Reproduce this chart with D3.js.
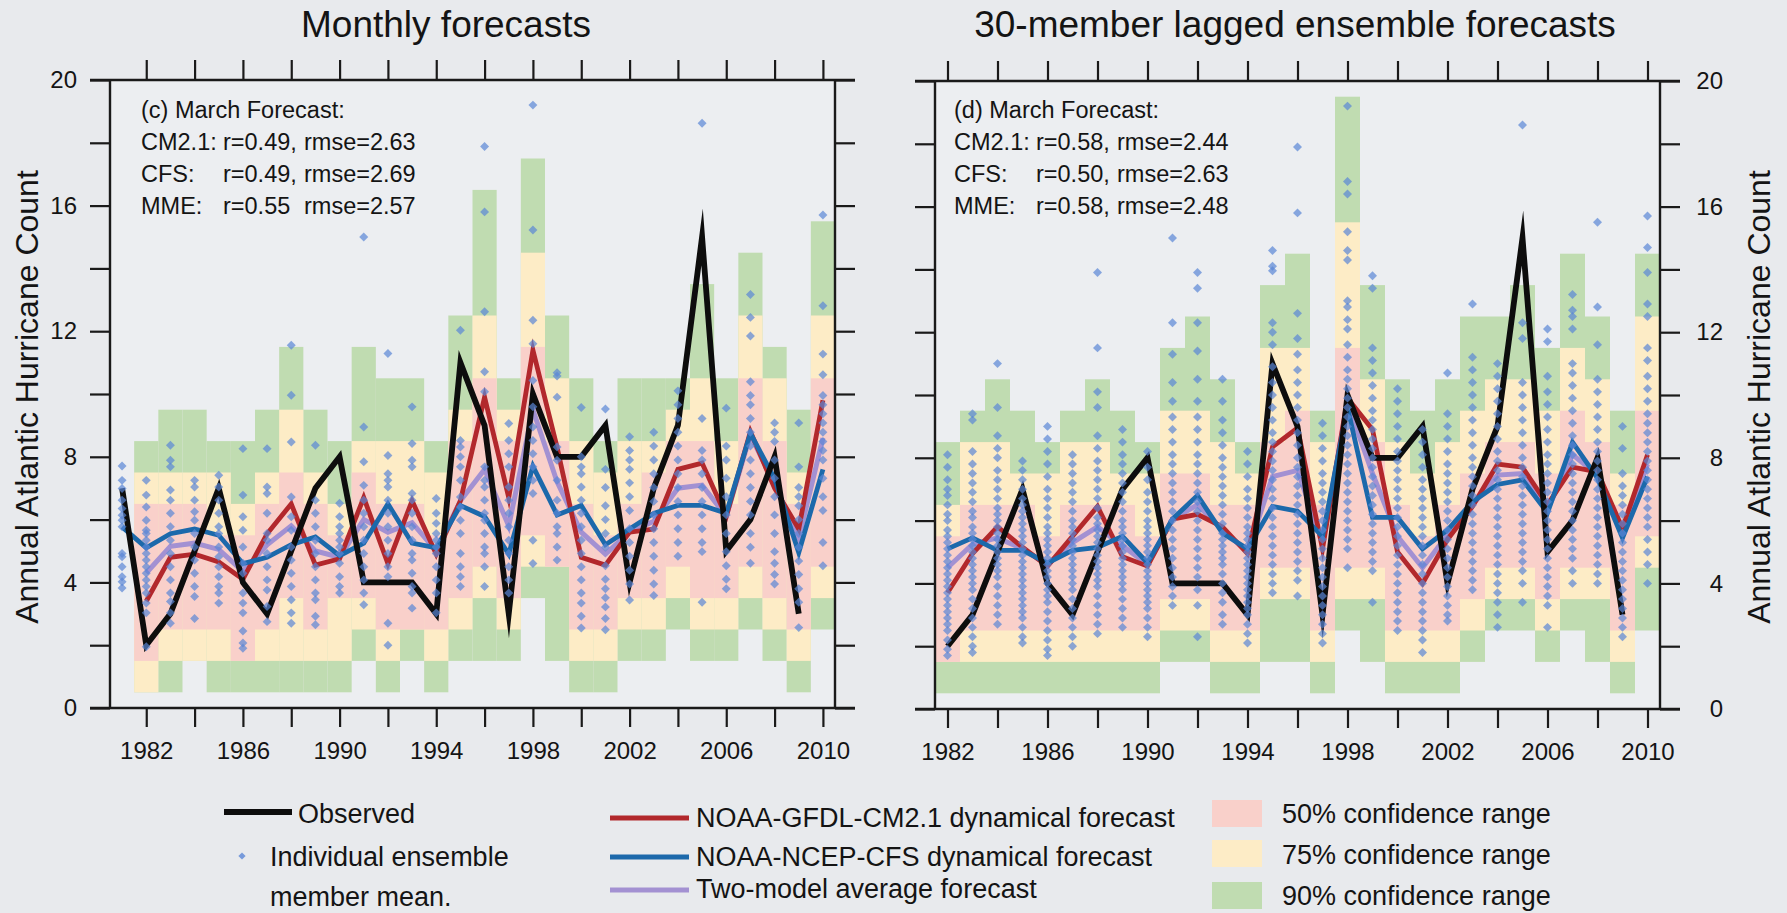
<!DOCTYPE html>
<html>
<head>
<meta charset="utf-8">
<script src="https://cdn.jsdelivr.net/npm/d3@7"></script>
<style>
  body { margin: 0; background: #e8eaed; }
  svg { display: block; font-family: "Liberation Sans", Arial, sans-serif; }
</style>
</head>
<body>
<svg id="chart" width="1787" height="913"></svg>
<script>
// ---------- data ----------
const yearTicks = [1982, 1984, 1986, 1988, 1990, 1992, 1994, 1996, 1998, 2000, 2002, 2004, 2006, 2008, 2010];
const yearLabels = [1982, 1986, 1990, 1994, 1998, 2002, 2006, 2010];
const countTicks = [0, 2, 4, 6, 8, 10, 12, 14, 16, 18, 20];
const countLabels = [0, 4, 8, 12, 16, 20];

// left panel: monthly forecasts (1981-2010)
const yearsL = [1981, 1982, 1983, 1984, 1985, 1986, 1987, 1988, 1989, 1990, 1991, 1992, 1993, 1994, 1995,
                1996, 1997, 1998, 1999, 2000, 2001, 2002, 2003, 2004, 2005, 2006, 2007, 2008, 2009, 2010];
const observedL = [7, 2, 3, 5, 7, 4, 3, 5, 7, 8, 4, 4, 4, 3, 11, 9, 3, 10, 8, 8, 9, 4, 7, 9, 15, 5, 6, 8, 3, null];
const cm21L = [null, 3.4, 4.8, 4.9, 4.65, 4.1, 5.55, 6.5, 4.55, 4.75, 6.7, 4.6, 6.6, 4.9, 6.6, 9.9, 6.7, 11.4, 8.3,
               4.8, 4.55, 5.6, 5.7, 7.6, 7.8, 6.1, 8.8, 7.0, 5.7, 9.8];
const cfsL = [5.77, 5.1, 5.55, 5.7, 5.5, 4.6, 4.8, 5.2, 5.45, 4.85, 5.25, 6.5, 5.25, 5.1, 6.45, 6.1, 4.9, 7.7, 6.15,
              6.45, 5.2, 5.7, 6.2, 6.45, 6.45, 6.2, 8.75, 7.3, 4.95, 7.6];
const mmeL = [null, 4.3, 5.15, 5.25, 5.05, 4.35, 5.2, 5.8, 5.0, 4.8, 6.0, 5.6, 5.9, 5.0, 6.6, 7.6, 5.8, 9.5, 7.2,
              5.6, 4.9, 5.6, 5.95, 7.0, 7.1, 6.1, 8.7, 7.1, 5.4, 8.6];
const membersL = [
  [7.71, 7.25, 6.99, 6.62, 6.35, 6.14, 5.98, 5.77, 4.92, 4.82, 4.5, 4.18, 4.02, 3.82],
  [7.25, 6.78, 6.4, 5.98, 5.66, 5.56, 5.34, 5.13, 4.92, 4.71, 4.5, 4.29, 4.08, 3.87, 3.66, 3.34, 3.03, 1.95],
  [8.37, 7.89, 7.68, 6.94, 6.62, 6.2, 5.77, 5.34, 4.92, 4.5, 4.08, 3.66, 3.39, 3.03, 2.7],
  [7.25, 7.04, 6.62, 6.25, 5.98, 5.56, 5.13, 4.71, 4.29, 3.87, 3.55, 2.85],
  [7.41, 7.04, 6.62, 6.2, 5.77, 5.56, 5.13, 4.82, 4.5, 4.18, 3.87, 3.66, 3.34],
  [8.26, 6.78, 6.09, 5.66, 5.13, 4.61, 4.29, 3.66, 3.34, 3.03, 2.45, 2.07, 1.9],
  [8.26, 7.04, 6.83, 6.2, 5.56, 5.34, 4.92, 4.5, 4.08, 3.76, 3.23, 2.75],
  [11.55, 9.96, 8.47, 6.72, 6.09, 5.66, 5.13, 4.71, 4.29, 3.87, 3.45, 3.03, 2.7],
  [8.37, 6.62, 6.2, 5.77, 5.34, 4.92, 4.5, 4.08, 3.66, 3.45, 2.92, 2.65],
  [6.52, 6.09, 5.77, 5.56, 5.34, 5.13, 4.92, 4.61, 4.18, 3.87, 3.66],
  [15.0, 8.95, 7.84, 7.09, 6.62, 6.2, 5.77, 5.34, 4.92, 4.5, 4.08, 3.66, 3.29],
  [11.29, 8.04, 7.46, 7.25, 7.04, 6.62, 6.2, 5.77, 5.34, 4.92, 4.5, 4.18, 2.7, 2.0],
  [9.59, 8.42, 7.89, 7.68, 6.83, 6.62, 6.2, 5.77, 5.34, 4.92, 4.71, 4.29, 3.87, 3.66, 3.18],
  [6.67, 6.2, 5.88, 5.56, 5.34, 5.13, 4.92, 4.5, 4.08, 3.66, 3.03],
  [12.03, 8.52, 8.31, 8.0, 7.68, 7.25, 6.72, 6.4, 5.98, 5.56, 4.92, 4.5, 4.18, 3.87],
  [17.88, 15.8, 12.62, 10.71, 10.07, 7.68, 7.25, 7.04, 6.62, 6.2, 5.98, 5.56, 5.13, 4.92, 4.5, 3.87],
  [9.06, 8.52, 8.1, 7.68, 7.04, 6.62, 6.2, 5.77, 5.34, 4.92, 4.5, 4.08, 3.66],
  [19.2, 15.22, 12.35, 11.6, 10.43, 9.59, 8.95, 8.52, 8.1, 7.68, 7.25, 6.83, 5.34, 4.6],
  [10.68, 10.57, 9.9, 8.31, 7.89, 7.25, 6.62, 6.2, 5.77, 5.56, 5.13, 4.71],
  [9.57, 8.0, 7.68, 7.46, 7.04, 6.62, 6.2, 5.77, 5.34, 4.92, 4.5, 4.08, 3.66, 3.34, 2.92, 2.55],
  [9.52, 7.6, 7.02, 6.44, 6.0, 5.56, 5.12, 4.53, 4.1, 3.8, 3.51, 3.22, 2.85, 2.49],
  [8.64, 8.2, 7.9, 7.6, 7.17, 6.73, 6.29, 5.71, 5.27, 4.83, 4.39, 3.95, 3.44],
  [8.78, 8.34, 7.9, 7.46, 7.02, 6.58, 6.15, 5.71, 5.27, 4.83, 4.39, 3.95, 3.58],
  [10.1, 9.66, 9.22, 8.78, 8.34, 7.9, 7.46, 7.02, 6.58, 6.15, 5.71, 5.27, 4.83],
  [18.62, 9.22, 8.2, 7.9, 7.46, 7.02, 6.58, 6.15, 5.71, 5.27, 4.98, 3.37],
  [9.55, 8.34, 7.9, 7.32, 6.73, 6.15, 5.56, 4.98, 4.53, 4.1, 3.8],
  [13.17, 12.44, 11.85, 10.39, 9.95, 9.66, 9.22, 8.78, 8.34, 7.9, 7.46, 7.02, 6.58, 6.15, 5.56, 5.12, 4.61],
  [9.08, 8.78, 8.49, 7.9, 7.32, 6.73, 6.15, 5.56, 4.98, 4.61, 4.25, 3.95],
  [9.08, 7.68, 7.02, 6.73, 6.44, 6.0, 5.56, 5.12, 4.68, 4.25, 3.8, 3.37, 2.56],
  [15.7, 12.81, 11.27, 10.61, 9.95, 9.66, 9.37, 9.08, 8.78, 8.49, 8.2, 7.9, 7.32, 6.73, 6.29, 5.27, 4.53]
];
// confidence ranges, 1982-2010
const bandYears = [1982, 1983, 1984, 1985, 1986, 1987, 1988, 1989, 1990, 1991, 1992, 1993, 1994, 1995, 1996,
                   1997, 1998, 1999, 2000, 2001, 2002, 2003, 2004, 2005, 2006, 2007, 2008, 2009, 2010];
const lo90L = [0.5, 0.5, 1.5, 0.5, 0.5, 0.5, 0.5, 0.5, 0.5, 1.5, 0.5, 1.5, 0.5, 1.5, 1.5, 1.5, 3.5, 1.5, 0.5, 0.5, 1.5, 1.5, 2.5, 1.5, 1.5, 2.5, 1.5, 0.5, 2.5];
const lo75L = [0.5, 1.5, 1.5, 1.5, 1.5, 1.5, 1.5, 1.5, 1.5, 2.5, 1.5, 2.5, 1.5, 2.5, 3.5, 2.5, 4.5, 4.5, 1.5, 1.5, 2.5, 2.5, 3.5, 2.5, 2.5, 3.5, 2.5, 1.5, 3.5];
const lo50L = [1.5, 2.5, 2.5, 2.5, 1.5, 2.5, 3.5, 2.5, 3.5, 3.5, 2.5, 2.5, 2.5, 3.5, 4.5, 3.5, 5.5, 4.5, 2.5, 2.5, 3.5, 3.5, 4.5, 3.5, 3.5, 4.5, 3.5, 2.5, 4.5];
const hi50L = [6.5, 6.5, 6.5, 5.5, 5.5, 6.5, 7.5, 6.5, 5.5, 7.5, 6.5, 6.5, 5.5, 8.5, 10.5, 8.5, 11.5, 8.5, 6.5, 5.5, 6.5, 7.5, 8.5, 8.5, 6.5, 10.5, 8.5, 6.5, 10.5];
const hi75L = [7.5, 7.5, 7.5, 7.5, 6.5, 7.5, 9.5, 7.5, 6.5, 8.5, 8.5, 8.5, 7.5, 9.5, 12.5, 9.5, 14.5, 10.5, 8.5, 7.5, 8.5, 8.5, 9.5, 10.5, 8.5, 12.5, 10.5, 7.5, 12.5];
const hi90L = [8.5, 9.5, 9.5, 8.5, 8.5, 9.5, 11.5, 9.5, 8.5, 11.5, 10.5, 10.5, 8.5, 12.5, 16.5, 10.5, 17.5, 12.5, 10.5, 8.5, 10.5, 10.5, 10.5, 13.5, 10.5, 14.5, 11.5, 9.5, 15.5];

// right panel: 30-member lagged ensemble (1982-2010)
const yearsR = bandYears;
const observedR = [2, 3, 5, 7, 4, 3, 5, 7, 8, 4, 4, 4, 3, 11, 9, 3, 10, 8, 8, 9, 4, 7, 9, 15, 5, 6, 8, 3, null];
const cm21R = [3.7, 4.95, 5.8, 5.15, 4.55, 5.5, 6.45, 4.85, 4.55, 6.05, 6.2, 5.8, 4.95, 8.35, 8.95, 5.1, 9.9, 8.9,
               5.0, 4.0, 5.4, 6.45, 7.8, 7.7, 6.5, 7.7, 7.55, 5.75, 8.1];
const cfsR = [5.1, 5.45, 5.05, 5.05, 4.65, 5.05, 5.15, 5.5, 4.65, 6.05, 6.8, 5.6, 5.1, 6.45, 6.3, 5.5, 9.6, 6.1,
              6.1, 5.1, 5.7, 6.6, 7.15, 7.3, 6.25, 8.5, 7.35, 5.45, 7.4];
const mmeR = [4.5, 5.25, 5.45, 5.1, 4.6, 5.3, 5.8, 5.2, 4.6, 6.05, 6.5, 5.7, 5.0, 7.4, 7.6, 5.3, 9.75, 7.5,
              5.5, 4.5, 5.55, 6.5, 7.45, 7.5, 6.35, 8.1, 7.45, 5.55, 7.8];
const membersR = [
  [8.1, 7.7, 7.3, 7.0, 6.8, 6.5, 6.2, 6.0, 5.7, 5.5, 5.3, 5.1, 4.9, 4.7, 4.5, 4.3, 4.1, 3.9, 3.7, 3.5, 3.3, 3.1, 2.9, 2.7, 2.5, 2.2, 1.9, 1.7],
  [9.4, 9.2, 8.2, 7.8, 7.5, 7.2, 6.9, 6.6, 6.3, 6.1, 5.8, 5.6, 5.4, 5.2, 5.0, 4.8, 4.6, 4.4, 4.2, 4.0, 3.8, 3.5, 3.2, 2.9, 2.6, 2.3, 2.0, 1.8],
  [11.0, 9.6, 8.7, 8.3, 8.0, 7.6, 7.3, 7.0, 6.7, 6.4, 6.2, 6.0, 5.8, 5.6, 5.4, 5.2, 5.0, 4.8, 4.6, 4.4, 4.2, 3.9, 3.6, 3.3, 3.0, 2.7],
  [7.9, 7.6, 7.3, 7.0, 6.7, 6.5, 6.3, 6.1, 5.9, 5.7, 5.5, 5.3, 5.1, 4.9, 4.7, 4.5, 4.3, 4.1, 3.9, 3.7, 3.5, 3.3, 3.1, 2.9, 2.6, 2.3, 2.1],
  [9.0, 8.6, 8.2, 7.8, 7.4, 7.0, 6.7, 6.4, 6.1, 5.8, 5.6, 5.4, 5.2, 5.0, 4.8, 4.6, 4.4, 4.2, 4.0, 3.8, 3.6, 3.4, 3.1, 2.8, 2.5, 2.2, 1.9, 1.7],
  [8.1, 7.8, 7.5, 7.2, 6.9, 6.6, 6.3, 6.0, 5.8, 5.6, 5.4, 5.2, 5.0, 4.8, 4.6, 4.4, 4.2, 4.0, 3.8, 3.5, 3.2, 2.9, 2.6, 2.3, 2.0],
  [13.9, 11.5, 10.1, 9.6, 8.7, 8.3, 7.9, 7.6, 7.3, 7.0, 6.7, 6.4, 6.1, 5.9, 5.7, 5.5, 5.3, 5.1, 4.9, 4.7, 4.5, 4.3, 4.1, 3.9, 3.6, 3.3, 3.0, 2.7, 2.4],
  [8.9, 8.5, 8.1, 7.8, 7.5, 7.2, 6.9, 6.6, 6.3, 6.0, 5.8, 5.6, 5.4, 5.2, 5.0, 4.8, 4.6, 4.4, 4.2, 4.0, 3.8, 3.5, 3.2, 2.9, 2.6],
  [8.2, 7.7, 7.3, 6.9, 6.6, 6.3, 6.0, 5.8, 5.6, 5.4, 5.2, 5.0, 4.8, 4.6, 4.4, 4.2, 4.0, 3.8, 3.6, 3.4, 3.2, 2.9, 2.6, 2.3],
  [15.0, 12.3, 11.3, 10.4, 9.8, 9.3, 8.9, 8.5, 8.1, 7.8, 7.5, 7.2, 6.9, 6.6, 6.3, 6.0, 5.7, 5.4, 5.1, 4.8, 4.5, 4.2, 3.9, 3.6, 3.3],
  [13.9, 13.4, 12.3, 11.4, 10.5, 9.8, 9.3, 8.9, 8.5, 8.1, 7.8, 7.5, 7.2, 6.9, 6.6, 6.3, 6.0, 5.7, 5.4, 5.1, 4.8, 4.5, 4.2, 3.8, 3.3, 2.3],
  [10.5, 9.8, 9.2, 8.8, 8.4, 8.0, 7.7, 7.4, 7.1, 6.8, 6.5, 6.2, 5.9, 5.6, 5.4, 5.2, 5.0, 4.8, 4.6, 4.3, 4.0, 3.7, 3.4, 3.0, 2.7],
  [8.2, 7.8, 7.4, 7.0, 6.7, 6.4, 6.1, 5.8, 5.6, 5.4, 5.2, 5.0, 4.8, 4.6, 4.4, 4.2, 4.0, 3.8, 3.6, 3.4, 3.2, 3.0, 2.7, 2.4, 2.1],
  [14.6, 14.1, 13.96, 12.3, 12.0, 11.6, 10.9, 10.4, 10.0, 9.6, 9.2, 8.8, 8.5, 8.2, 7.9, 7.6, 7.3, 7.0, 6.7, 6.4, 6.1, 5.8, 5.5, 5.2, 4.9, 4.6, 4.3, 4.0, 3.7],
  [17.9, 15.8, 12.6, 11.8, 11.3, 10.8, 10.4, 10.0, 9.6, 9.2, 8.8, 8.4, 8.0, 7.7, 7.4, 7.1, 6.8, 6.5, 6.2, 5.9, 5.6, 5.3, 5.0, 4.7, 4.4, 4.1, 3.6],
  [9.1, 8.7, 8.3, 7.9, 7.5, 7.2, 6.9, 6.6, 6.3, 6.0, 5.7, 5.4, 5.1, 4.8, 4.5, 4.2, 3.9, 3.6, 3.3, 3.0, 2.7, 2.4, 2.1],
  [19.2, 16.8, 16.4, 15.2, 14.6, 14.3, 13.0, 12.8, 12.4, 12.1, 11.6, 11.2, 10.8, 10.5, 10.2, 9.9, 9.6, 9.3, 9.0, 8.7, 8.4, 8.1, 7.8, 7.5, 7.2, 6.9, 6.6, 6.3, 6.0, 5.7, 5.4, 5.1, 4.5],
  [13.8, 13.4, 11.5, 11.1, 10.7, 10.3, 9.9, 9.5, 9.2, 8.9, 8.6, 8.3, 8.0, 7.7, 7.4, 7.1, 6.8, 6.5, 6.2, 5.9, 5.6, 5.3, 5.0, 4.7, 4.4, 3.4],
  [10.2, 9.8, 9.4, 9.0, 8.6, 8.2, 7.9, 7.6, 7.3, 7.0, 6.7, 6.4, 6.1, 5.8, 5.5, 5.2, 4.9, 4.6, 4.3, 4.0, 3.7, 3.4, 3.1, 2.8, 2.5],
  [8.9, 8.5, 8.1, 7.7, 7.3, 7.0, 6.7, 6.4, 6.1, 5.8, 5.5, 5.2, 4.9, 4.6, 4.3, 4.0, 3.7, 3.4, 3.1, 2.8, 2.5, 2.2, 1.8],
  [10.7, 9.4, 9.0, 8.6, 8.2, 7.8, 7.5, 7.2, 6.9, 6.6, 6.3, 6.0, 5.7, 5.4, 5.1, 4.8, 4.5, 4.2, 3.9, 3.6, 3.3, 3.0, 2.8],
  [12.9, 11.2, 10.8, 10.4, 10.0, 9.6, 9.2, 8.8, 8.4, 8.0, 7.7, 7.4, 7.1, 6.8, 6.5, 6.2, 5.9, 5.6, 5.3, 5.0, 4.7, 4.4, 4.1, 3.8],
  [11.0, 10.6, 10.2, 9.8, 9.4, 9.0, 8.6, 8.2, 7.9, 7.6, 7.3, 7.0, 6.7, 6.4, 6.1, 5.8, 5.5, 5.2, 4.9, 4.6, 4.3, 4.0, 3.7, 3.4, 3.0, 2.6],
  [18.6, 12.3, 11.8, 10.4, 10.0, 9.6, 9.2, 8.8, 8.4, 8.0, 7.7, 7.4, 7.1, 6.8, 6.5, 6.2, 5.9, 5.6, 5.3, 5.0, 4.7, 4.4, 4.0, 3.4],
  [12.1, 11.7, 10.6, 10.1, 9.7, 9.3, 8.9, 8.5, 8.1, 7.8, 7.5, 7.2, 6.9, 6.6, 6.3, 6.0, 5.7, 5.4, 5.1, 4.8, 4.5, 4.2, 3.9, 3.6, 3.3, 2.6],
  [13.2, 12.7, 12.5, 12.1, 11.0, 10.7, 10.3, 9.9, 9.5, 9.1, 8.7, 8.4, 8.1, 7.8, 7.5, 7.2, 6.9, 6.6, 6.3, 6.0, 5.7, 5.4, 5.1, 4.8, 4.4, 4.0],
  [15.5, 12.8, 11.6, 10.5, 10.1, 9.7, 9.3, 8.9, 8.5, 8.2, 7.9, 7.6, 7.3, 7.0, 6.7, 6.4, 6.1, 5.8, 5.5, 5.2, 4.9, 4.6, 4.3, 4.0],
  [9.0, 8.3, 7.5, 7.1, 6.8, 6.5, 6.2, 5.9, 5.6, 5.3, 5.0, 4.7, 4.4, 4.1, 3.8, 3.5, 3.2, 2.9, 2.6, 2.3],
  [15.7, 14.7, 13.9, 12.9, 12.5, 11.5, 11.1, 10.6, 10.2, 9.8, 9.4, 9.1, 8.8, 8.5, 8.2, 7.9, 7.6, 7.3, 7.0, 6.7, 6.4, 6.1, 5.8, 5.4, 5.0, 4.6, 4.0]
];
const lo90R = [0.5, 0.5, 0.5, 0.5, 0.5, 0.5, 0.5, 0.5, 0.5, 1.5, 1.5, 0.5, 0.5, 1.5, 1.5, 0.5, 2.5, 1.5, 0.5, 0.5, 0.5, 1.5, 2.5, 2.5, 1.5, 2.5, 1.5, 0.5, 2.5];
const lo75R = [1.5, 1.5, 1.5, 1.5, 1.5, 1.5, 1.5, 1.5, 1.5, 2.5, 2.5, 1.5, 1.5, 3.5, 3.5, 1.5, 3.5, 3.5, 1.5, 1.5, 1.5, 2.5, 3.5, 3.5, 2.5, 3.5, 3.5, 1.5, 4.5];
const lo50R = [1.5, 2.5, 2.5, 2.5, 2.5, 2.5, 2.5, 2.5, 2.5, 3.5, 3.5, 2.5, 2.5, 4.5, 4.5, 2.5, 4.5, 4.5, 2.5, 2.5, 2.5, 3.5, 4.5, 4.5, 3.5, 4.5, 4.5, 2.5, 5.5];
const hi50R = [5.5, 6.5, 6.5, 6.5, 5.5, 6.5, 6.5, 6.5, 5.5, 7.5, 7.5, 6.5, 6.5, 8.5, 9.5, 6.5, 11.5, 8.5, 6.5, 5.5, 6.5, 7.5, 8.5, 8.5, 7.5, 9.5, 8.5, 6.5, 9.5];
const hi75R = [6.5, 8.5, 8.5, 7.5, 7.5, 8.5, 8.5, 7.5, 7.5, 9.5, 9.5, 8.5, 7.5, 11.5, 11.5, 8.5, 15.5, 10.5, 8.5, 7.5, 8.5, 9.5, 10.5, 10.5, 9.5, 11.5, 10.5, 7.5, 12.5];
const hi90R = [8.5, 9.5, 10.5, 9.5, 8.5, 9.5, 10.5, 9.5, 8.5, 11.5, 12.5, 10.5, 8.5, 13.5, 14.5, 9.5, 19.5, 13.5, 10.5, 9.5, 10.5, 12.5, 12.5, 13.5, 11.5, 14.5, 12.5, 9.5, 14.5];

const statsL = ["(c) March Forecast:", ["CM2.1:", "r=0.49,", "rmse=2.63"], ["CFS:", "r=0.49,", "rmse=2.69"], ["MME:", "r=0.55", "rmse=2.57"]];
const statsR = ["(d) March Forecast:", ["CM2.1:", "r=0.58,", "rmse=2.44"], ["CFS:", "r=0.50,", "rmse=2.63"], ["MME:", "r=0.58,", "rmse=2.48"]];

// ---------- styles ----------
const C = {
  obs: "#0d0d0d", cm21: "#b2282c", cfs: "#1c69ab", mme: "#a391d2",
  b50: "#f9d0ca", b75: "#fdecc6", b90: "#c0dcb1", dot: "#5a86d6", axis: "#1a1a1a", text: "#141414"
};

const svg = d3.select("#chart");
svg.append("rect").attr("width", 1787).attr("height", 913).attr("fill", "#e8eaed");

function drawPanel(cfg, d) {
  const x = d3.scaleLinear().domain(cfg.xDomain).range([cfg.left, cfg.right]);
  const y = d3.scaleLinear().domain([0, 20]).range([cfg.bottom, cfg.top]);
  const g = svg.append("g");

  g.append("rect")
    .attr("x", cfg.left).attr("y", cfg.top)
    .attr("width", cfg.right - cfg.left).attr("height", cfg.bottom - cfg.top)
    .attr("fill", "#eceef1");

  // confidence ranges: widest first
  [[d.lo90, d.hi90, C.b90], [d.lo75, d.hi75, C.b75], [d.lo50, d.hi50, C.b50]].forEach(([lo, hi, col]) => {
    g.append("g").selectAll("rect")
      .data(bandYears.map((yr, i) => ({ yr, lo: lo[i], hi: hi[i] })))
      .join("rect")
      .attr("x", e => x(e.yr - 0.5))
      .attr("width", e => x(e.yr + 0.5) - x(e.yr - 0.5))
      .attr("y", e => y(e.hi))
      .attr("height", e => y(e.lo) - y(e.hi))
      .attr("fill", col);
  });

  const line = d3.line()
    .defined(e => e.v != null)
    .x(e => x(e.yr))
    .y(e => y(e.v));

  const series = [
    [d.mme, C.mme, 5],
    [d.cm21, C.cm21, 4.8],
    [d.cfs, C.cfs, 4.8],
    [d.obs, C.obs, 5.8]
  ];
  series.forEach(([vals, col, w]) => {
    g.append("path")
      .datum(d.years.map((yr, i) => ({ yr, v: vals[i] })))
      .attr("d", line)
      .attr("fill", "none")
      .attr("stroke", col)
      .attr("stroke-width", w)
      .attr("stroke-linejoin", "miter")
      .attr("stroke-miterlimit", 12);
  });

  // individual ensemble members
  const pts = d.members.flatMap((vals, i) => vals.map(v => ({ yr: d.years[i], v })));
  g.append("g").selectAll("path")
    .data(pts)
    .join("path")
    .attr("d", d3.symbol(d3.symbolSquare, 40))
    .attr("transform", e => `translate(${x(e.yr)},${y(e.v)}) rotate(45)`)
    .attr("fill", C.dot)
    .attr("fill-opacity", 0.7);

  // frame
  const frame = g.append("g").attr("stroke", C.axis).attr("stroke-width", 2.4).attr("fill", "none");
  frame.append("line").attr("x1", cfg.left - 20).attr("x2", cfg.right + 20).attr("y1", cfg.bottom).attr("y2", cfg.bottom);
  frame.append("line").attr("x1", cfg.left - 20).attr("x2", cfg.right + 20).attr("y1", cfg.top).attr("y2", cfg.top);
  frame.append("line").attr("x1", cfg.left).attr("x2", cfg.left).attr("y1", cfg.top).attr("y2", cfg.bottom);
  frame.append("line").attr("x1", cfg.right).attr("x2", cfg.right).attr("y1", cfg.top).attr("y2", cfg.bottom);

  const styleAxis = a => {
    a.select(".domain").remove();
    a.selectAll(".tick line").attr("stroke", C.axis).attr("stroke-width", 2.2);
    a.selectAll(".tick text").attr("fill", C.text).style("font-size", "24px")
      .style("font-family", "'Liberation Sans', Arial, sans-serif");
  };

  const fmtYear = v => yearLabels.includes(v) ? v : "";
  const fmtCount = v => countLabels.includes(v) ? v : "";

  g.append("g").attr("transform", `translate(0,${cfg.bottom})`)
    .call(d3.axisBottom(x).tickValues(yearTicks).tickSize(19).tickSizeOuter(0).tickFormat(fmtYear))
    .call(styleAxis)
    .call(a => a.selectAll(".tick text").attr("y", 51).attr("dy", 0));

  g.append("g").attr("transform", `translate(0,${cfg.top})`)
    .call(d3.axisTop(x).tickValues(yearTicks).tickSize(20).tickSizeOuter(0).tickFormat(""))
    .call(styleAxis);

  g.append("g").attr("transform", `translate(${cfg.left},0)`)
    .call(d3.axisLeft(y).tickValues(countTicks).tickSize(20).tickSizeOuter(0).tickPadding(13)
      .tickFormat(cfg.labelsLeft ? fmtCount : ""))
    .call(styleAxis);

  g.append("g").attr("transform", `translate(${cfg.right},0)`)
    .call(d3.axisRight(y).tickValues(countTicks).tickSize(20).tickSizeOuter(0)
      .tickFormat(cfg.labelsLeft ? "" : fmtCount))
    .call(styleAxis)
    .call(a => a.selectAll(".tick text").attr("text-anchor", "end").attr("x", 63));

  // title
  svg.append("text")
    .attr("x", cfg.titleX).attr("y", 37)
    .attr("text-anchor", "middle")
    .attr("fill", C.text)
    .style("font-size", "37px")
    .text(cfg.title);

  // y axis title
  svg.append("text")
    .attr("transform", `translate(${cfg.yTitleX},397) rotate(-90)`)
    .attr("text-anchor", "middle")
    .attr("fill", C.text)
    .style("font-size", "32px")
    .text("Annual Atlantic Hurricane Count");

  // skill scores
  const st = svg.append("g").attr("fill", C.text).style("font-size", "23.5px");
  st.append("text").attr("x", cfg.statX).attr("y", 118).text(d.stats[0]);
  d.stats.slice(1).forEach((row, i) => {
    const t = st.append("text").attr("y", 150 + i * 32);
    [0, 82, 163].forEach((off, j) => {
      t.append("tspan").attr("x", cfg.statX + off).text(row[j]);
    });
  });
}

drawPanel(
  { left: 110, right: 835, top: 80, bottom: 708, xDomain: [1980.5, 2010.5], labelsLeft: true,
    title: "Monthly forecasts", titleX: 446, yTitleX: 38, statX: 141 },
  { years: yearsL, obs: observedL, cm21: cm21L, cfs: cfsL, mme: mmeL, members: membersL,
    lo90: lo90L, lo75: lo75L, lo50: lo50L, hi50: hi50L, hi75: hi75L, hi90: hi90L, stats: statsL }
);
drawPanel(
  { left: 935, right: 1660, top: 81, bottom: 709, xDomain: [1981.5, 2010.5], labelsLeft: false,
    title: "30-member lagged ensemble forecasts", titleX: 1295, yTitleX: 1770, statX: 954 },
  { years: yearsR, obs: observedR, cm21: cm21R, cfs: cfsR, mme: mmeR, members: membersR,
    lo90: lo90R, lo75: lo75R, lo50: lo50R, hi50: hi50R, hi75: hi75R, hi90: hi90R, stats: statsR }
);

// ---------- legend ----------
const legend = svg.append("g").attr("fill", C.text).style("font-size", "27px");
const legLines = [
  { x1: 224, x2: 292, y: 812, col: C.obs, w: 6, label: "Observed", tx: 298, ty: 823 },
  { x1: 610, x2: 689, y: 818, col: C.cm21, w: 5, label: "NOAA-GFDL-CM2.1 dynamical forecast", tx: 696, ty: 827 },
  { x1: 610, x2: 689, y: 857, col: C.cfs, w: 5, label: "NOAA-NCEP-CFS dynamical forecast", tx: 696, ty: 866 },
  { x1: 610, x2: 689, y: 890, col: C.mme, w: 5, label: "Two-model average forecast", tx: 696, ty: 898 }
];
legLines.forEach(l => {
  legend.append("line").attr("x1", l.x1).attr("x2", l.x2).attr("y1", l.y).attr("y2", l.y)
    .attr("stroke", l.col).attr("stroke-width", l.w);
  legend.append("text").attr("x", l.tx).attr("y", l.ty).text(l.label);
});
legend.append("path")
  .attr("d", d3.symbol(d3.symbolSquare, 26))
  .attr("transform", "translate(242,856) rotate(45)")
  .attr("fill", C.dot).attr("fill-opacity", 0.8);
legend.append("text").attr("x", 270).attr("y", 866).text("Individual ensemble");
legend.append("text").attr("x", 270).attr("y", 906).text("member mean.");

const legBoxes = [
  { y: 800, col: C.b50, label: "50% confidence range", ty: 823 },
  { y: 840, col: C.b75, label: "75% confidence range", ty: 864 },
  { y: 882, col: C.b90, label: "90% confidence range", ty: 905 }
];
legBoxes.forEach(b => {
  legend.append("rect").attr("x", 1212).attr("y", b.y).attr("width", 50).attr("height", 27).attr("fill", b.col);
  legend.append("text").attr("x", 1282).attr("y", b.ty).text(b.label);
});
</script>
</body>
</html>
